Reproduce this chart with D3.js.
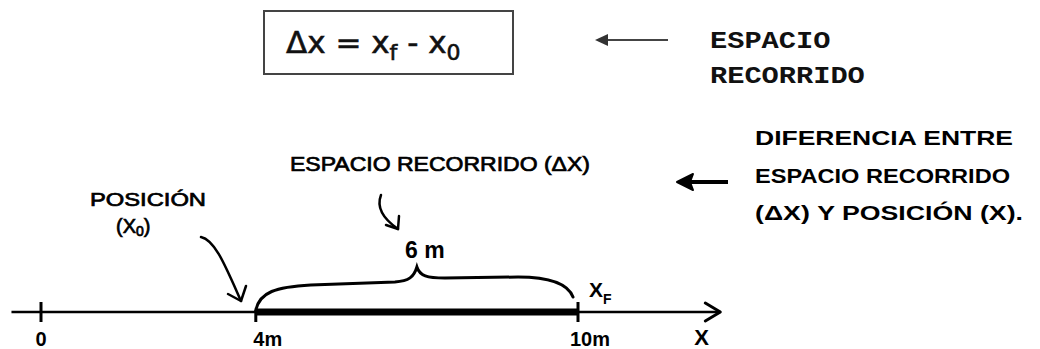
<!DOCTYPE html>
<html>
<head>
<meta charset="utf-8">
<script src="https://cdn.jsdelivr.net/npm/d3@7/dist/d3.min.js"></script>
<style>
  body { margin: 0; background: #fff; }
  svg { display: block; }
  .hand { font-family: "Liberation Sans", "DejaVu Sans", sans-serif; font-weight: bold; fill: #000; }
  .thin { font-weight: normal; stroke: #000; stroke-width: 0.7px; }
</style>
</head>
<body>
<svg id="chart" width="1040" height="349"></svg>
<script>
// number line data
const tickValues = [0, 4, 10];
const tickLabels = ['0', '4m', '10m'];
const startPos = 4;
const endPos = 10;
const distanceLabel = '6 m';
const axisDomain = [-0.55, 12.65];

// text blocks
const noteLines = ['DIFERENCIA ENTRE', 'ESPACIO RECORRIDO', '(ΔX) Y POSICIÓN (X).'];
const noteWidths = [258, 255, 268];
const defLines = ['ESPACIO', 'RECORRIDO'];

const svg = d3.select('#chart');
const x = d3.scaleLinear().domain([0, 10]).range([41, 578]);
const axisY = 312;

// ---- formula box ----
svg.append('rect')
    .attr('x', 264).attr('y', 11)
    .attr('width', 249).attr('height', 63)
    .attr('fill', '#fff').attr('stroke', '#444').attr('stroke-width', 2);

const f = svg.append('text')
    .attr('x', 286).attr('y', 53)
    .style('font-family', '"DejaVu Sans", sans-serif')
    .style('font-size', '31px')
    .attr('fill', '#111').attr('stroke', '#111').attr('stroke-width', 0.6);
f.append('tspan').text('Δx = x');
f.append('tspan').attr('dy', 7).style('font-size', '22px').text('f');
f.append('tspan').attr('dy', -7).text(' - x');
f.append('tspan').attr('dy', 7).style('font-size', '22px').text('0');

// thin arrow pointing to the formula
svg.append('line')
    .attr('x1', 606).attr('y1', 40).attr('x2', 668).attr('y2', 40)
    .attr('stroke', '#444').attr('stroke-width', 2);
svg.append('path')
    .attr('d', 'M595,40 L608,34 L608,46 Z')
    .attr('fill', '#333');

svg.selectAll('.def')
    .data(defLines)
    .join('text')
    .attr('class', 'def')
    .attr('x', 710)
    .attr('y', (d, i) => 48 + i * 35)
    .attr('textLength', d => d.length * 17.2)
    .attr('lengthAdjust', 'spacingAndGlyphs')
    .style('font-family', '"Liberation Mono", "DejaVu Sans Mono", monospace')
    .style('font-weight', 'bold')
    .style('font-size', '24px')
    .attr('fill', '#111')
    .text(d => d);

// ---- right hand note ----
svg.selectAll('.note')
    .data(noteLines)
    .join('text')
    .attr('class', 'note hand')
    .attr('x', 755)
    .attr('y', (d, i) => 145 + i * 37.5)
    .attr('textLength', (d, i) => noteWidths[i])
    .attr('lengthAdjust', 'spacingAndGlyphs')
    .style('font-size', '20px')
    .text(d => d);

svg.append('line')
    .attr('x1', 688).attr('y1', 182).attr('x2', 728).attr('y2', 182)
    .attr('stroke', '#000').attr('stroke-width', 4);
svg.append('path')
    .attr('d', 'M677,182 L693,174 L690,182 L693,190 Z')
    .attr('fill', '#000').attr('stroke', '#000').attr('stroke-width', 2)
    .attr('stroke-linejoin', 'round');

// ---- number line ----
svg.append('line')
    .attr('x1', x(axisDomain[0])).attr('y1', axisY)
    .attr('x2', x(axisDomain[1])).attr('y2', axisY)
    .attr('stroke', '#000').attr('stroke-width', 2.5);

svg.append('line')
    .attr('x1', x(startPos)).attr('y1', axisY)
    .attr('x2', x(endPos)).attr('y2', axisY)
    .attr('stroke', '#000').attr('stroke-width', 7);

const tipX = x(axisDomain[1]);
svg.append('path')
    .attr('d', `M${tipX - 15},${axisY - 9} L${tipX},${axisY} L${tipX - 15},${axisY + 9}`)
    .attr('fill', 'none').attr('stroke', '#000').attr('stroke-width', 3)
    .attr('stroke-linecap', 'round').attr('stroke-linejoin', 'round');

svg.selectAll('.tick')
    .data(tickValues)
    .join('line')
    .attr('class', 'tick')
    .attr('x1', d => x(d)).attr('x2', d => x(d))
    .attr('y1', (d, i) => i === 1 ? axisY - 2 : axisY - 10)
    .attr('y2', axisY + 10)
    .attr('stroke', '#000').attr('stroke-width', 3);

svg.selectAll('.tlabel')
    .data(tickValues)
    .join('text')
    .attr('class', 'tlabel hand')
    .attr('x', (d, i) => x(d) + (i === 0 ? 0 : 12))
    .attr('y', 346)
    .attr('text-anchor', 'middle')
    .style('font-size', '20px')
    .text((d, i) => tickLabels[i]);

svg.append('text')
    .attr('class', 'hand')
    .attr('x', x(12.3)).attr('y', 345)
    .attr('text-anchor', 'middle')
    .style('font-size', '22px')
    .text('X');

// x_f label
const xf = svg.append('text').attr('class', 'hand')
    .attr('x', x(endPos) + 11).attr('y', 297)
    .style('font-size', '21px');
xf.append('tspan').text('X');
xf.append('tspan').attr('dy', 7).style('font-size', '14px').text('F');

// ---- brace over travelled distance ----
const xs = x(startPos), xe = x(endPos), xm = x((startPos + endPos) / 2);
svg.append('path')
    .attr('d', `M${xs},${axisY - 2}
        C${xs + 4},${axisY - 20} ${xs + 20},${axisY - 25} ${xs + 55},${axisY - 27}
        L${xm - 22},${axisY - 30}
        C${xm - 8},${axisY - 31} ${xm - 3},${axisY - 35} ${xm},${axisY - 45}
        C${xm + 3},${axisY - 36} ${xm + 10},${axisY - 34} ${xm + 28},${axisY - 34}
        L${xe - 60},${axisY - 35}
        C${xe - 28},${axisY - 35} ${xe - 10},${axisY - 28} ${xe - 5},${axisY - 15}`)
    .attr('fill', 'none').attr('stroke', '#000').attr('stroke-width', 3)
    .attr('stroke-linecap', 'round');

svg.append('text')
    .attr('class', 'hand')
    .attr('x', xm + 8).attr('y', 258)
    .attr('text-anchor', 'middle')
    .style('font-size', '23px')
    .text(distanceLabel);

// ---- labels with curved arrows ----
svg.append('text')
    .attr('class', 'hand thin')
    .attr('x', 290).attr('y', 171)
    .attr('textLength', 300).attr('lengthAdjust', 'spacingAndGlyphs')
    .style('font-size', '20px')
    .text('ESPACIO RECORRIDO (ΔX)');

svg.append('text')
    .attr('class', 'hand thin')
    .attr('x', 90).attr('y', 206)
    .attr('textLength', 116).attr('lengthAdjust', 'spacingAndGlyphs')
    .style('font-size', '19px')
    .text('POSICIÓN');

const x0 = svg.append('text').attr('class', 'hand thin')
    .attr('x', 116).attr('y', 233)
    .style('font-size', '20px');
x0.append('tspan').text('(X');
x0.append('tspan').attr('dy', 3).style('font-size', '14px').text('0');
x0.append('tspan').attr('dy', -3).text(')');

const arrowStyle = sel => sel.attr('fill', 'none').attr('stroke', '#000')
    .attr('stroke-width', 2.5).attr('stroke-linecap', 'round').attr('stroke-linejoin', 'round');

svg.append('path')
    .attr('d', `M201,237 C215,240 225,265 241,301`)
    .call(arrowStyle);
svg.append('path')
    .attr('d', `M228,294 L241,301 L246,286`)
    .call(arrowStyle);

svg.append('path')
    .attr('d', `M381,195 C376,208 385,220 398,229`)
    .call(arrowStyle);
svg.append('path')
    .attr('d', `M386,225 L398,229 L399,216`)
    .call(arrowStyle);
</script>
</body>
</html>
